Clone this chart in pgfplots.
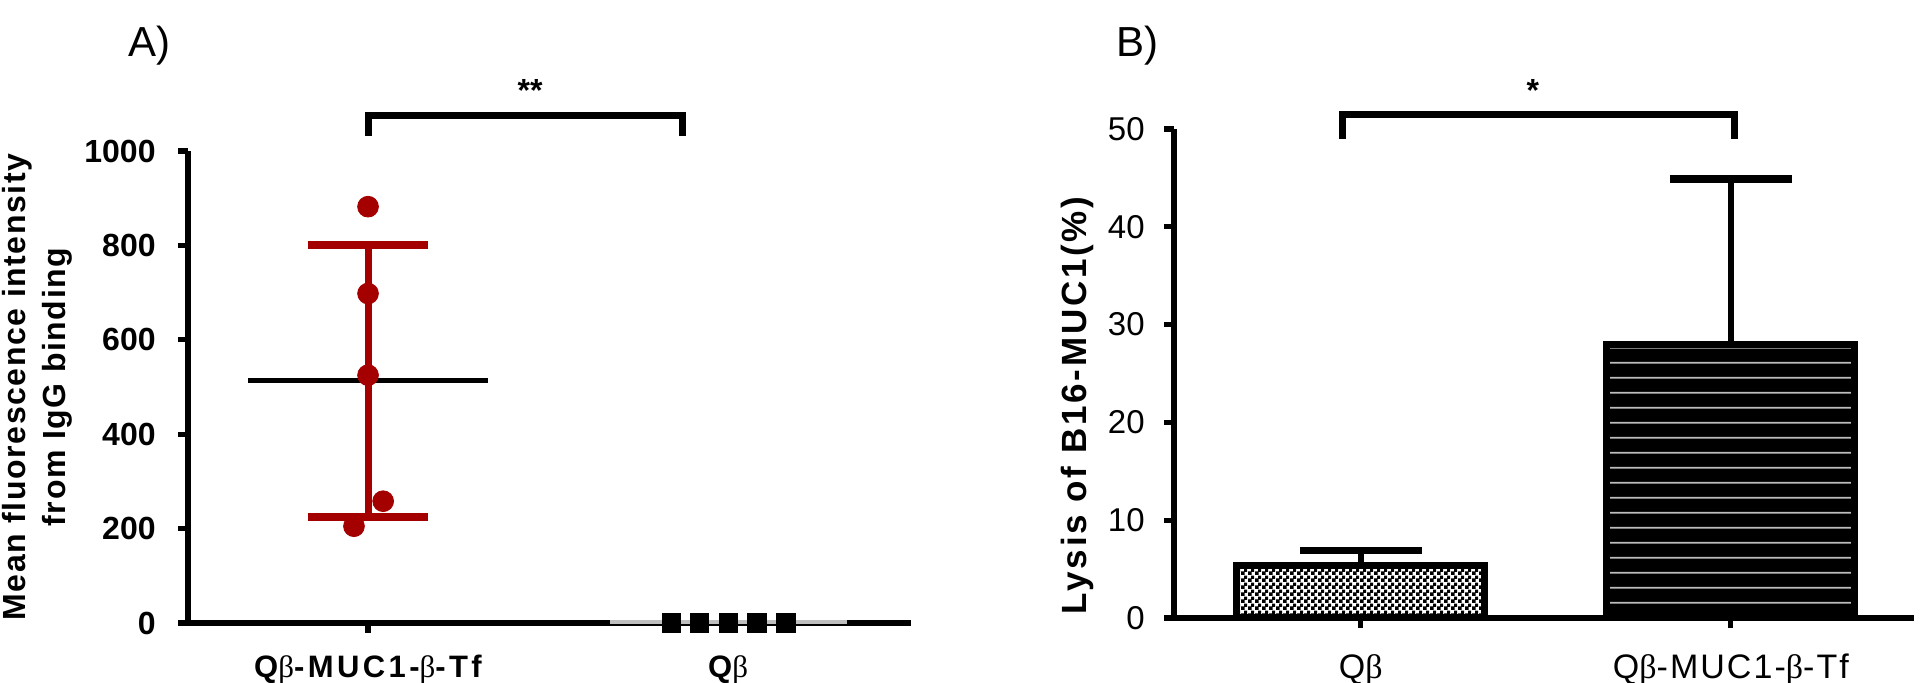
\documentclass[border=0pt]{standalone}
\usepackage{fontspec}
\setmainfont{Liberation Sans}
\newfontfamily\betafont{Liberation Serif}
\usepackage{pgfplots}
\pgfplotsset{compat=1.18}
\usetikzlibrary{patterns,patterns.meta}
\definecolor{cred}{HTML}{A50000}
\definecolor{cstripe}{HTML}{BDBDBD}
\newcommand{\bet}{{\betafont\mdseries β}}
\tikzdeclarepattern{
  name=barlines, type=uncolored,
  bounding box={(0pt,0pt) and (20pt,7.35pt)},
  tile size={(20pt,7.35pt)},
  code={\draw[line width=0.9pt] (-1pt,3.675pt) -- (21pt,3.675pt);}
}
\tikzdeclarepattern{
  name=finechecker, type=uncolored,
  bounding box={(0pt,0pt) and (3.3pt,3.3pt)},
  tile size={(3.3pt,3.3pt)},
  code={\fill (0pt,0pt) rectangle (1.9pt,1.9pt); \fill (1.65pt,1.65pt) rectangle (3.3pt,3.3pt);}
}
\pgfplotsset{
  panel/.style={
    scale only axis, clip=false,
    axis x line*=bottom, axis y line*=left,
    axis line style={line width=2.6pt, -},
    tick style={line width=2.6pt, black},
    tick align=outside, major tick length=5pt,
    /pgf/number format/assume math mode=true,
    /pgf/number format/1000 sep={},
    yticklabel style={anchor=east, inner sep=0pt},
    xticklabel style={anchor=base, inner sep=0pt},
  },
}
\begin{document}
\begin{tikzpicture}
\useasboundingbox (0,0) rectangle (960pt,341.5pt);

% panel A: scatter with mean +- SD
\begin{axis}[panel,
  at={(94pt,30pt)}, anchor=south west,
  width=361.5pt, height=236pt,
  xmin=-0.5, xmax=1.508, ymin=0, ymax=1000,
  xtick={0,1}, xticklabels={Q\bet-MUC1-\bet-Tf, Q\bet},
  ytick={0,200,400,600,800,1000},
  yticklabel style={font=\fontsize{16}{18}\selectfont\bfseries, xshift=-11pt},
  xticklabel style={font=\fontsize{15.5}{17}\selectfont\bfseries\addfontfeatures{LetterSpace=11}, yshift=-22.5pt},
  ylabel={Mean fluorescence intensity\\from IgG binding},
  ylabel style={align=center, font=\fontsize{16}{20}\selectfont\bfseries\addfontfeatures{LetterSpace=5},
    at={(axis description cs:-0.209,0.5)}, anchor=center},
]
\addplot[cred, line width=3.5pt] coordinates {(0,225.6) (0,801.6)};
\addplot[cred, line width=4pt] coordinates {(-0.167,801.6) (0.167,801.6)};
\addplot[cred, line width=4pt] coordinates {(-0.167,225.6) (0.167,225.6)};
\addplot[only marks, mark=*, mark size=5.2pt, cred] coordinates {(0,882) (0,698) (0,525) (0.042,258) (-0.039,205)};
\addplot[black, line width=2.2pt] coordinates {(-0.332,513.6) (0.332,513.6)};
\addplot[black!25, line width=2pt] coordinates {(0.671,3) (1.329,3)};
\addplot[only marks, mark=square*, mark size=4.6pt, black] coordinates {(0.842,0) (0.92,0) (1,0) (1.08,0) (1.161,0)};
\draw[line width=3.5pt, line join=miter] (axis cs:0,1032) -- (axis cs:0,1076) -- (axis cs:0.872,1076) -- (axis cs:0.872,1032);
\node[font=\fontsize{16}{16}\selectfont\bfseries, anchor=base] at (axis cs:0.45,1104) {**};
\end{axis}

% panel B: bars with SD
\begin{axis}[panel,
  at={(587pt,32.5pt)}, anchor=south west,
  width=370pt, height=244.5pt,
  xmin=-0.505, xmax=1.495, ymin=0, ymax=50,
  xtick={0,1}, xticklabels={Q\bet, Q\bet-MUC1-\bet-Tf},
  ytick={0,10,20,30,40,50},
  yticklabel style={font=\fontsize{16.5}{18}\selectfont, xshift=-9.5pt},
  xticklabel style={font=\fontsize{17}{19}\selectfont\addfontfeatures{LetterSpace=6}, yshift=-25.5pt},
  ylabel={Lysis of B16-MUC1(\%)},
  ylabel style={font=\fontsize{17.5}{20}\selectfont\bfseries\addfontfeatures{LetterSpace=8},
    at={(axis description cs:-0.130,0.435)}, anchor=center},
]
\addplot[black, line width=3pt] coordinates {(0,5.35) (0,6.9)};
\addplot[black, line width=3.5pt] coordinates {(-0.165,6.9) (0.165,6.9)};
\addplot[black, line width=3pt] coordinates {(1,28) (1,44.9)};
\addplot[black, line width=4pt] coordinates {(0.835,44.9) (1.165,44.9)};
\addplot[ybar, bar width=0.67, bar shift=0pt, draw=black, line width=3.5pt, line join=miter,
  preaction={fill=white}, pattern=finechecker, pattern color=black] coordinates {(0,5.35)};
\addplot[ybar, bar width=0.67, bar shift=0pt, draw=black, line width=3.5pt, line join=miter,
  preaction={fill=black}, pattern=barlines, pattern color=cstripe] coordinates {(1,28)};
\draw[line width=3.5pt, line join=miter] (axis cs:-0.051,48.98) -- (axis cs:-0.051,51.53) -- (axis cs:1.009,51.53) -- (axis cs:1.009,48.98);
\node[font=\fontsize{16}{16}\selectfont\bfseries, anchor=base] at (axis cs:0.465,52.8) {*};
\end{axis}

\node[font=\fontsize{21}{24}\selectfont, anchor=base] at (74.5pt,313pt) {A)};
\node[font=\fontsize{21}{24}\selectfont, anchor=base] at (568.5pt,313pt) {B)};
\end{tikzpicture}
\end{document}
